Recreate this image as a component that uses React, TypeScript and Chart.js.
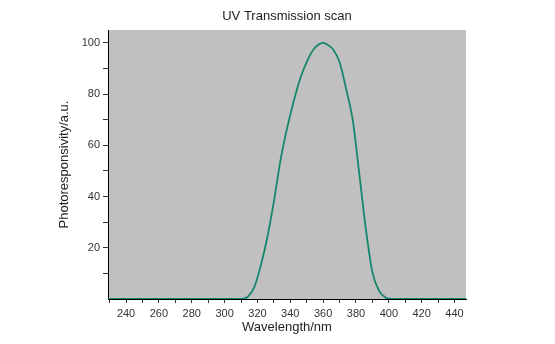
import React, { useEffect, useRef } from "react";
import { Chart, registerables } from "chart.js";

Chart.register(...registerables);

const wavelengths = [229, 300, 310, 314, 318, 322, 326, 330, 334, 338, 342, 346, 350, 354, 358, 360, 362, 366, 370, 374, 378, 382, 386, 390, 394, 398, 402, 420, 447];
const response = [0, 0, 0, 0.8, 4.5, 13, 24, 38, 54, 66.5, 77, 86, 92.5, 97.3, 99.6, 100, 99.5, 97.5, 92.5, 82, 70, 49, 27.5, 10.5, 3.3, 0.6, 0, 0, 0];

const xTickValues = [230, 240, 250, 260, 270, 280, 290, 300, 310, 320, 330, 340, 350, 360, 370, 380, 390, 400, 410, 420, 430, 440];
const xTickLabels = ["240", "260", "280", "300", "320", "340", "360", "380", "400", "420", "440"];
const yTickValues = [10, 20, 30, 40, 50, 60, 70, 80, 90, 100];
const yTickLabels = ["20", "40", "60", "80", "100"];

const FONT = "'Liberation Sans', Arial, sans-serif";

const plotBg = {
  id: "plotBg",
  beforeDraw(chart: any) {
    const { ctx, chartArea } = chart;
    ctx.save();
    ctx.fillStyle = "#c0c0c0";
    ctx.fillRect(chartArea.left, chartArea.top, chartArea.right - chartArea.left, chartArea.bottom - chartArea.top);
    ctx.restore();
  },
};

export default function App() {
  const ref = useRef<HTMLCanvasElement | null>(null);
  useEffect(() => {
    if (!ref.current) return;
    const chart = new Chart(ref.current, {
      type: "line",
      data: {
        datasets: [
          {
            data: wavelengths.map((w, i) => ({ x: w, y: response[i] })),
            borderColor: "#17866f",
            borderWidth: 1.8,
            pointRadius: 0,
            cubicInterpolationMode: "monotone",
            fill: false,
          },
        ],
      },
      options: {
        animation: false,
        responsive: false,
        maintainAspectRatio: false,
        layout: { padding: { left: 0, right: 89, top: 0, bottom: 0 } },
        plugins: {
          legend: { display: false },
          tooltip: { enabled: false },
          title: {
            display: true,
            text: "UV Transmission scan",
            fullSize: false,
            color: "#222",
            font: { family: FONT, size: 13, weight: "normal" },
            padding: { top: 9, bottom: 5.4 },
          },
        },
        scales: {
          x: {
            type: "linear",
            min: 229,
            max: 447,
            afterBuildTicks: (scale: any) => {
              scale.ticks = xTickValues.map((v) => ({ value: v }));
            },
            afterFit: (scale: any) => {
              scale.height = 45;
            },
            grid: { display: true, drawOnChartArea: false, drawTicks: true, tickLength: 4, tickColor: "#333", tickWidth: 1 },
            border: { display: true, color: "#000", width: 1 },
            ticks: {
              autoSkip: false,
              maxRotation: 0,
              padding: 4,
              color: "#333",
              font: { family: FONT, size: 11 },
              callback: (v: any) => (xTickLabels.includes(String(v)) ? String(v) : ""),
            },
            title: {
              display: true,
              text: "Wavelength/nm",
              color: "#222",
              font: { family: FONT, size: 13 },
              padding: { top: 0, bottom: 8.5 },
            },
          },
          y: {
            type: "linear",
            min: 0,
            max: 105,
            afterBuildTicks: (scale: any) => {
              scale.ticks = yTickValues.map((v) => ({ value: v }));
            },
            afterFit: (scale: any) => {
              scale.width = 108;
            },
            grid: { display: true, drawOnChartArea: false, drawTicks: true, tickLength: 5, tickColor: "#333", tickWidth: 1 },
            border: { display: true, color: "#000", width: 1 },
            ticks: {
              autoSkip: false,
              padding: 3,
              color: "#333",
              font: { family: FONT, size: 11 },
              callback: (v: any) => (yTickLabels.includes(String(v)) ? String(v) : ""),
            },
            title: {
              display: true,
              text: "Photoresponsivity/a.u.",
              color: "#222",
              font: { family: FONT, size: 13 },
              padding: { top: 57, bottom: 0 },
            },
          },
        },
      },
      plugins: [plotBg],
    });
    return () => chart.destroy();
  }, []);
  return (
    <div style={{ position: "fixed", left: 0, top: 0, width: 555, height: 344, background: "#fff" }}>
      <canvas ref={ref} width={555} height={344} style={{ display: "block", width: 555, height: 344 }} />
    </div>
  );
}
